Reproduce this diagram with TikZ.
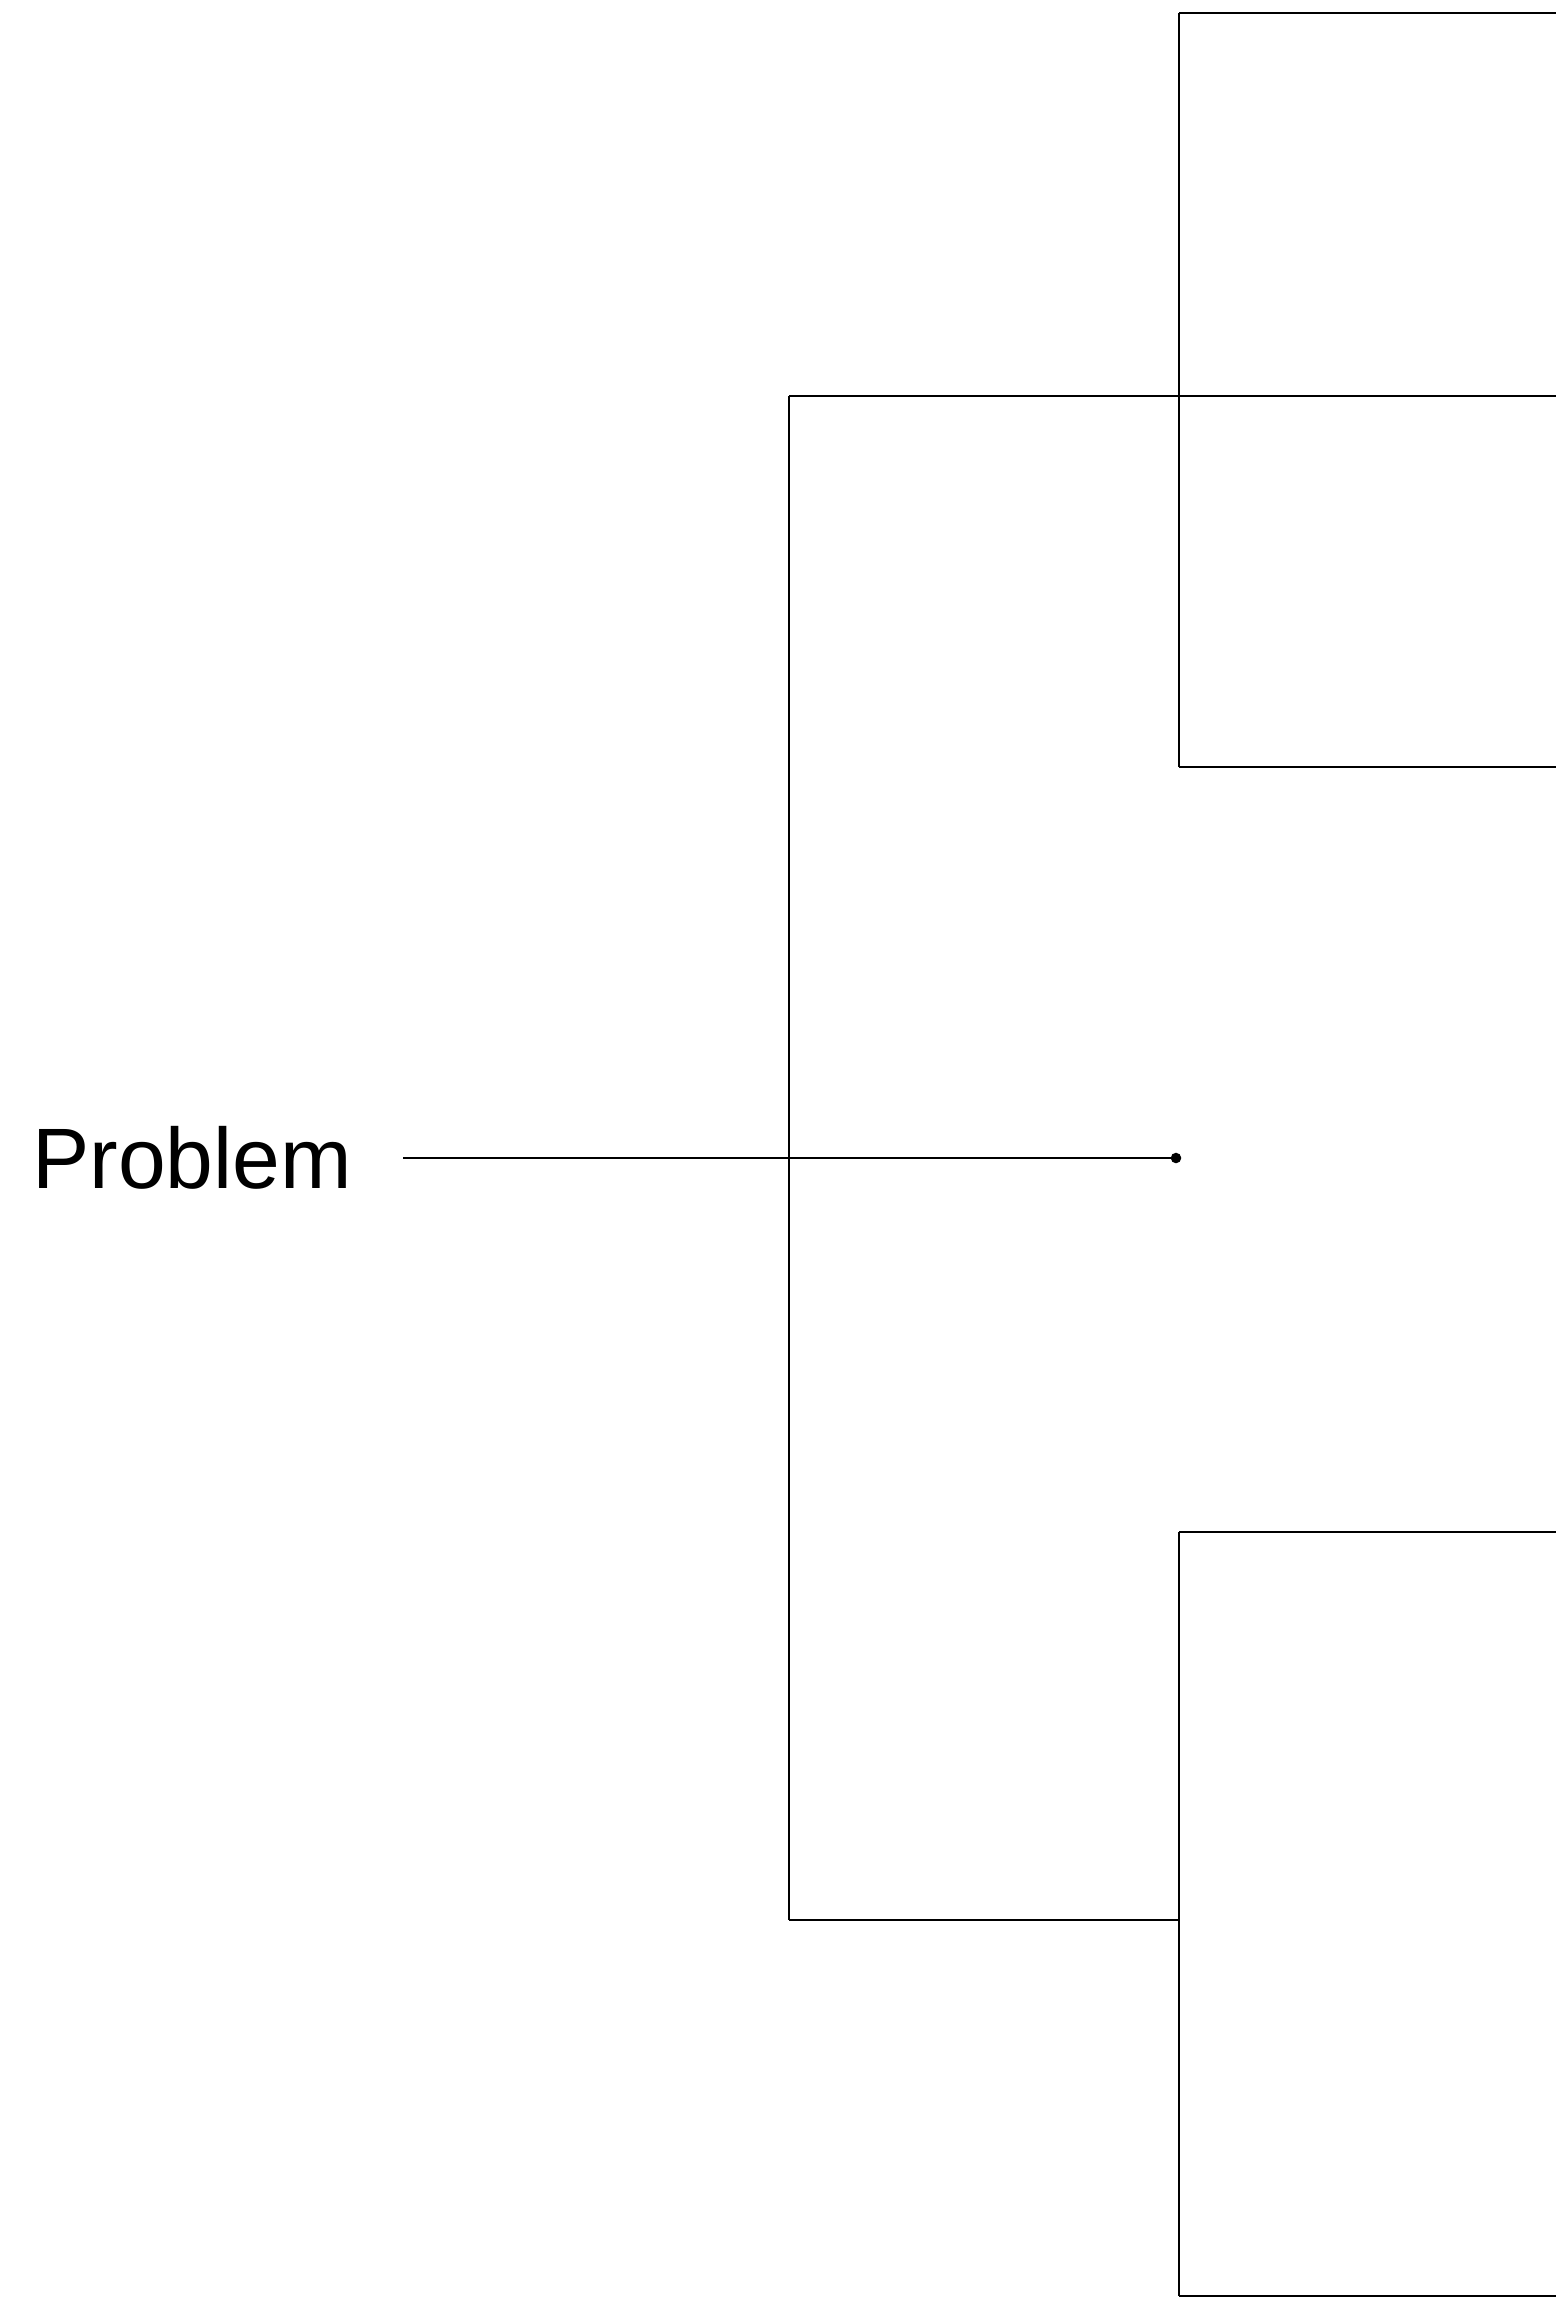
\documentclass[tikz,border=0pt]{standalone}
\usepackage{fontspec}
\setmainfont{Liberation Sans}
\usetikzlibrary{positioning}

\begin{document}
\begin{tikzpicture}[x=0.01cm,y=-0.01cm,line width=0.75pt,
    label/.style={anchor=west,inner sep=0pt,font=\fontsize{24.4}{28}\selectfont}]
    \useasboundingbox (0,0) rectangle (1556,2299);

    % Root
    \node[label] (problem) at (31,1158) {Problem};
    \coordinate (root) at (789,1158);
    \coordinate (tip) at (1176,1158);
    \draw[shorten <=0.5cm] (problem) -- (root);
    \draw (root) -- (tip);
    \fill (tip) circle (1.5pt);

    % First level
    \coordinate (upper) at (789,396);
    \coordinate (lower) at (789,1920);
    \draw (upper) -- (lower);

    % Upper branch
    \coordinate (uptop) at (1179,13);
    \coordinate (upmid) at (1179,396);
    \coordinate (upbot) at (1179,767);
    \coordinate (uptopend) at (1556,13);
    \coordinate (upmidend) at (1556,396);
    \coordinate (upbotend) at (1556,767);
    \draw (upper) -- (upmid) -- (upmidend);
    \draw (uptop) -- (upbot);
    \draw (uptop) -- (uptopend);
    \draw (upbot) -- (upbotend);

    % Lower branch
    \coordinate (lotop) at (1179,1532);
    \coordinate (lomid) at (1179,1920);
    \coordinate (lobot) at (1179,2296);
    \coordinate (lotopend) at (1556,1532);
    \coordinate (lobotend) at (1556,2296);
    \draw (lower) -- (lomid);
    \draw (lotop) -- (lobot);
    \draw (lotop) -- (lotopend);
    \draw (lobot) -- (lobotend);
\end{tikzpicture}
\end{document}
